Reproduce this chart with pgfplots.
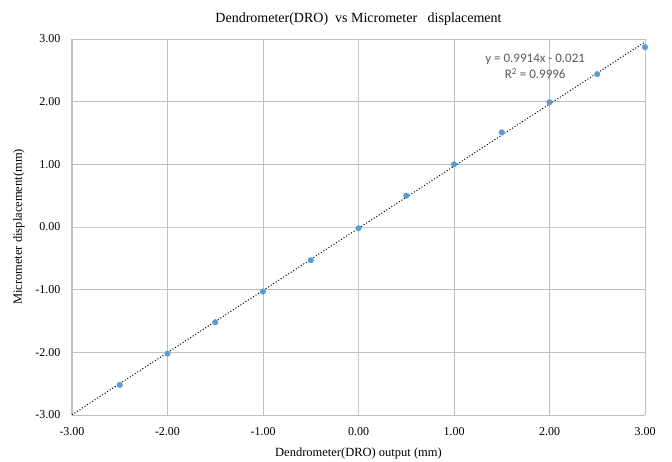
\documentclass[border=0pt]{standalone}
\usepackage{pgfplots}
\pgfplotsset{compat=1.18}
\usepackage{fontspec}
\setmainfont{Liberation Serif}
\newfontfamily\calib{Carlito}
\definecolor{grid}{HTML}{E0E0E0}
\definecolor{zero}{HTML}{CCCCCC}
\definecolor{pt}{HTML}{5B9BD5}
\definecolor{txt}{HTML}{595959}
\begin{document}
\begin{tikzpicture}
\begin{axis}[name=ax,
  scale only axis, width=573pt, height=376pt,
  xmin=-3, xmax=3, ymin=-3, ymax=3,
  xtick={-3,-2,...,3}, ytick={-3,-2,...,3},
  /pgf/number format/assume math mode=true,
  xticklabel={\pgfmathprintnumber[fixed,fixed zerofill,precision=2]{\tick}},
  yticklabel={\pgfmathprintnumber[fixed,fixed zerofill,precision=2]{\tick}},
  ticklabel style={font=\fontsize{12}{14}\selectfont, text=black},
  xticklabel style={yshift=-9pt},
  yticklabel style={xshift=-8pt},
  axis line style={draw=none},
  major tick length=0pt,
  grid=major, grid style={grid, line width=1pt},
  extra x ticks={0}, extra y ticks={0},
  extra tick style={grid style={zero, line width=1pt}, ticklabel style={opacity=0}},
  xlabel={Dendrometer(DRO) output (mm)},
  ylabel={Micrometer displacement(mm)},
  label style={font=\fontsize{12.5}{14}\selectfont},
  xlabel style={yshift=-5pt},
  ylabel style={yshift=4pt},
  title={Dendrometer(DRO)\ \ vs Micrometer\ \ \ displacement},
  title style={font=\fontsize{14}{16}\selectfont, yshift=4pt},
  clip=false,
]
\addplot[only marks, mark=*, mark size=2.8pt, pt] coordinates {
(-2.5,-2.52) (-2,-2.02) (-1.5,-1.52) (-1,-1.03) (-0.5,-0.53) (0,-0.02)
(0.5,0.50) (1,1.00) (1.5,1.51) (2,1.99) (2.5,2.44) (3,2.87)
};
\addplot[black, dotted, line width=1pt] coordinates {(-3,-2.9952) (3,2.9532)};
\node[font=\calib\fontsize{13}{16}\selectfont, text=txt, align=center] at (axis cs:1.85,2.56) {y = 0.9914x - 0.021\\R\textsuperscript{2} = 0.9996};
\end{axis}
\pgfresetboundingbox
\path (ax.south west) ++(-72pt,-46pt) coordinate (bl);
\path (ax.north east) ++(27pt,39pt) coordinate (tr);
\path (bl) rectangle (tr);
\end{tikzpicture}
\end{document}
